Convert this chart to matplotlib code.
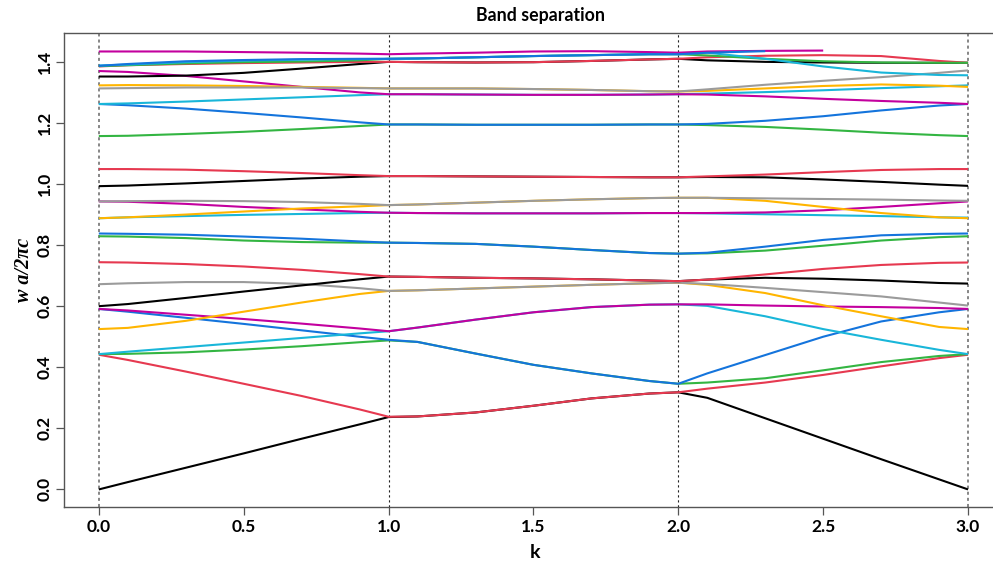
import numpy as np
import matplotlib
matplotlib.use("Agg")
import matplotlib.pyplot as plt

# k path: three segments 0-1, 1-2, 2-3
k_path = [0.0, 0.1, 0.3, 0.5, 0.7, 0.9,
          1.0, 1.1, 1.3, 1.5, 1.7, 1.9,
          2.0, 2.1, 2.3, 2.5, 2.7, 2.9, 3.0]

nan = np.nan

# band frequencies (w a / 2 pi c) along the path, lowest band first
band_01 = [0.000, 0.024, 0.071, 0.118, 0.166, 0.213, 0.237, 0.239, 0.252, 0.274, 0.298, 0.314, 0.318, 0.300, 0.233, 0.166, 0.099, 0.033, 0.000]
band_02 = [0.441, 0.424, 0.386, 0.346, 0.306, 0.262, 0.238, 0.239, 0.252, 0.274, 0.298, 0.314, 0.318, 0.330, 0.350, 0.375, 0.403, 0.430, 0.441]
band_03 = [0.443, 0.444, 0.449, 0.458, 0.469, 0.482, 0.488, 0.483, 0.445, 0.408, 0.380, 0.355, 0.346, 0.350, 0.364, 0.390, 0.417, 0.437, 0.443]
band_04 = [0.591, 0.582, 0.562, 0.542, 0.521, 0.500, 0.490, 0.483, 0.445, 0.408, 0.380, 0.355, 0.346, 0.380, 0.440, 0.500, 0.550, 0.580, 0.591]
band_05 = [0.443, 0.451, 0.466, 0.481, 0.496, 0.511, 0.518, 0.530, 0.556, 0.580, 0.597, 0.605, 0.606, 0.601, 0.567, 0.525, 0.490, 0.457, 0.443]
band_06 = [0.591, 0.586, 0.572, 0.558, 0.543, 0.527, 0.518, 0.530, 0.556, 0.580, 0.597, 0.605, 0.606, 0.606, 0.602, 0.599, 0.597, 0.594, 0.591]
band_07 = [0.525, 0.529, 0.552, 0.582, 0.612, 0.640, 0.650, 0.652, 0.658, 0.664, 0.670, 0.675, 0.677, 0.670, 0.643, 0.603, 0.567, 0.532, 0.525]
band_08 = [0.672, 0.675, 0.679, 0.679, 0.673, 0.659, 0.650, 0.652, 0.658, 0.664, 0.670, 0.675, 0.677, 0.673, 0.660, 0.646, 0.632, 0.612, 0.602]
band_09 = [0.600, 0.607, 0.627, 0.648, 0.668, 0.688, 0.697, 0.696, 0.693, 0.691, 0.688, 0.684, 0.682, 0.687, 0.693, 0.690, 0.684, 0.676, 0.674]
band_10 = [0.744, 0.743, 0.738, 0.730, 0.719, 0.705, 0.697, 0.696, 0.693, 0.691, 0.688, 0.684, 0.682, 0.687, 0.704, 0.722, 0.735, 0.742, 0.743]
band_11 = [0.829, 0.828, 0.823, 0.815, 0.810, 0.808, 0.808, 0.807, 0.804, 0.795, 0.784, 0.774, 0.772, 0.773, 0.782, 0.798, 0.815, 0.826, 0.829]
band_12 = [0.838, 0.837, 0.834, 0.828, 0.821, 0.812, 0.808, 0.807, 0.804, 0.795, 0.784, 0.774, 0.772, 0.775, 0.795, 0.817, 0.832, 0.837, 0.838]
band_13 = [0.888, 0.891, 0.895, 0.899, 0.902, 0.905, 0.906, 0.905, 0.904, 0.904, 0.904, 0.905, 0.905, 0.904, 0.901, 0.898, 0.895, 0.891, 0.890]
band_14 = [0.943, 0.942, 0.935, 0.925, 0.917, 0.909, 0.906, 0.905, 0.904, 0.904, 0.904, 0.905, 0.905, 0.905, 0.907, 0.914, 0.925, 0.937, 0.943]
band_15 = [0.888, 0.891, 0.900, 0.910, 0.920, 0.927, 0.931, 0.933, 0.939, 0.945, 0.950, 0.954, 0.955, 0.955, 0.945, 0.925, 0.905, 0.891, 0.888]
band_16 = [0.943, 0.944, 0.945, 0.944, 0.941, 0.935, 0.931, 0.933, 0.939, 0.945, 0.950, 0.954, 0.955, 0.955, 0.953, 0.951, 0.949, 0.946, 0.945]
band_17 = [0.993, 0.995, 1.002, 1.010, 1.018, 1.024, 1.026, 1.026, 1.025, 1.024, 1.023, 1.022, 1.022, 1.023, 1.022, 1.015, 1.007, 0.998, 0.994]
band_18 = [1.049, 1.049, 1.047, 1.042, 1.036, 1.029, 1.026, 1.026, 1.025, 1.024, 1.023, 1.022, 1.022, 1.025, 1.031, 1.039, 1.046, 1.049, 1.049]
band_19 = [1.157, 1.158, 1.164, 1.171, 1.180, 1.190, 1.195, 1.195, 1.194, 1.194, 1.194, 1.195, 1.195, 1.193, 1.187, 1.178, 1.168, 1.160, 1.157]
band_20 = [1.262, 1.258, 1.247, 1.233, 1.218, 1.202, 1.195, 1.195, 1.194, 1.194, 1.194, 1.195, 1.195, 1.197, 1.207, 1.222, 1.241, 1.257, 1.262]
band_21 = [1.262, 1.264, 1.270, 1.277, 1.284, 1.291, 1.294, 1.294, 1.293, 1.292, 1.292, 1.293, 1.294, 1.296, 1.301, 1.307, 1.314, 1.320, 1.323]
band_22 = [1.370, 1.367, 1.354, 1.336, 1.318, 1.300, 1.294, 1.294, 1.293, 1.292, 1.292, 1.293, 1.294, 1.293, 1.287, 1.279, 1.272, 1.266, 1.262]
band_23 = [1.323, 1.324, 1.323, 1.321, 1.318, 1.315, 1.313, 1.313, 1.313, 1.311, 1.308, 1.304, 1.303, 1.305, 1.313, 1.321, 1.326, 1.322, 1.318]
band_24 = [1.313, 1.314, 1.316, 1.316, 1.316, 1.314, 1.313, 1.313, 1.313, 1.311, 1.308, 1.304, 1.303, 1.310, 1.325, 1.338, 1.350, 1.364, 1.372]
band_25 = [1.352, 1.352, 1.355, 1.364, 1.378, 1.393, 1.400, 1.399, 1.398, 1.399, 1.403, 1.408, 1.410, 1.405, 1.400, 1.398, 1.397, 1.397, 1.397]
band_26 = [1.385, 1.389, 1.393, 1.396, 1.398, 1.400, 1.400, 1.399, 1.398, 1.399, 1.403, 1.408, 1.410, 1.415, 1.420, 1.422, 1.419, 1.403, 1.397]
band_27 = [1.386, 1.389, 1.395, 1.399, 1.401, 1.405, 1.410, 1.411, 1.415, 1.419, 1.422, 1.425, 1.425, 1.421, 1.410, 1.402, 1.398, 1.397, 1.397]
band_28 = [1.387, 1.393, 1.402, 1.406, 1.409, 1.410, 1.410, 1.411, 1.415, 1.419, 1.422, 1.425, 1.425, 1.430, 1.435, nan, nan, nan, nan]
band_29 = [1.388, 1.391, 1.399, 1.404, 1.407, 1.409, 1.410, 1.411, 1.415, 1.419, 1.422, 1.425, 1.425, 1.430, 1.410, 1.385, 1.365, 1.357, 1.356]
band_30 = [1.434, 1.434, 1.434, 1.432, 1.430, 1.427, 1.425, 1.427, 1.430, 1.434, 1.435, 1.432, 1.430, 1.434, 1.436, 1.437, nan, nan, nan]

bands = [band_01, band_02, band_03, band_04, band_05, band_06, band_07, band_08,
         band_09, band_10, band_11, band_12, band_13, band_14, band_15, band_16,
         band_17, band_18, band_19, band_20, band_21, band_22, band_23, band_24,
         band_25, band_26, band_27, band_28, band_29, band_30]

# colour cycle used for the bands
palette = ["#000000", "#E63950", "#33B542", "#1474DC",
           "#19B6D9", "#C3009E", "#FFB500", "#9B9B9B"]

sym_points = [0, 1, 2, 3]
x_ticks = [0.0, 0.5, 1.0, 1.5, 2.0, 2.5, 3.0]
y_ticks = [0.0, 0.2, 0.4, 0.6, 0.8, 1.0, 1.2, 1.4]

plt.rcParams["font.family"] = ["Lato", "DejaVu Sans"]
plt.rcParams["font.weight"] = "bold"

fig = plt.figure(figsize=(9.93, 5.68), dpi=100)
ax = fig.add_axes([0.0645, 0.1074, 0.9454, 0.8345])

for i, band in enumerate(bands):
    z = 3 + 0.01 * i
    if i == 27:
        # band 28 sits on top of the degenerate band 29 between k=1 and k=2
        z = 3.5
    ax.plot(k_path, band, color=palette[i % len(palette)], lw=1.5,
            solid_capstyle="butt", zorder=z)

for k in sym_points:
    if k in (0, 3):
        ax.axvline(k, color="#666666", lw=1.1, ls=(0, (2, 2)), zorder=2)
    else:
        ax.axvline(k, color="#222222", lw=0.8, ls=(0, (2, 2.5)), zorder=2)

ax.set_xlim(-0.12, 3.12)
ax.set_ylim(-0.0575, 1.4945)

ax.set_xticks(x_ticks)
ax.set_xticklabels([f"{v:.1f}" for v in x_ticks])
ax.set_yticks(y_ticks)
ax.set_yticklabels([f"{v:.1f}" for v in y_ticks], rotation=90, va="center")
ax.tick_params(axis="both", direction="out", length=5.5, width=0.9,
               color="#555555", labelsize=12.5, pad=3)
ax.tick_params(axis="y", pad=2.5)

for side in ["left", "bottom", "top"]:
    ax.spines[side].set_color("#555555")
    ax.spines[side].set_linewidth(1.0)
ax.spines["right"].set_visible(False)

fig.text(540 / 993, 1 - 16 / 568, "Band separation", ha="center", va="center",
         fontsize=12.8, fontweight="bold")
fig.text(535 / 993, 1 - 553 / 568, "k", ha="center", va="center",
         fontsize=14, fontweight="bold")
fig.text(24 / 993, 1 - 270 / 568, "w a/2πc", ha="center", va="center",
         rotation=90, fontsize=14.5, fontweight="bold", style="italic",
         family=["Liberation Serif", "DejaVu Serif"])

fig.savefig("out.png", dpi=100)
